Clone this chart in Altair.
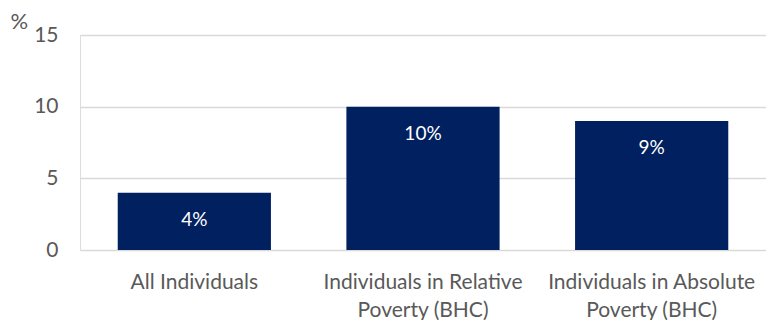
import altair as alt
import pandas as pd

categories = ["All Individuals", "Individuals in Relative Poverty (BHC)", "Individuals in Absolute Poverty (BHC)"]
values = [4, 10, 9]
labels = ["4%", "10%", "9%"]

df = pd.DataFrame({"cat": categories, "val": values, "lab": labels})

FONT = "Lato"
GREY = "#595959"
FS = 21

x = alt.X("cat:N", sort=categories, title=None,
          scale=alt.Scale(paddingInner=0.33, paddingOuter=0.165),
          axis=alt.Axis(labelAngle=0, ticks=False, domain=False, labelFontSize=FS,
                        labelColor=GREY, labelFont=FONT, labelPadding=21, labelLineHeight=28,
                        labelBaseline="top", labelLimit=300,
                        labelExpr="split(replace(datum.label, ' Poverty', '|Poverty'), '|')"))
y = alt.Y("val:Q", scale=alt.Scale(domain=[0, 15], nice=False),
          axis=alt.Axis(values=[0, 5, 10, 15], ticks=False, domain=False, labelFontSize=FS,
                        labelColor=GREY, labelFont=FONT, labelPadding=22,
                        gridColor="#d9d9d9", gridWidth=1.3,
                        title="%", titleAngle=0, titleFontSize=22, titleFontWeight="normal",
                        titleColor=GREY, titleFont=FONT, titleX=-70, titleY=-7,
                        titleAlign="left", titleBaseline="alphabetic"))

bars = alt.Chart(df).mark_bar(color="#002060").encode(x=x, y=y)
text = alt.Chart(df).mark_text(color="white", fontSize=19, font=FONT, baseline="middle", dy=27).encode(
    x=alt.X("cat:N", sort=categories), y="val:Q", text="lab:N")

chart = (bars + text).properties(
    width=686, height=215,
    autosize=alt.AutoSizeParams(type="none"),
    padding={"left": 80, "top": 35, "right": 0, "bottom": 70},
).configure_view(stroke=None).configure(background="white")

chart.save("out.html", embed_options={"renderer": "svg", "actions": False})
